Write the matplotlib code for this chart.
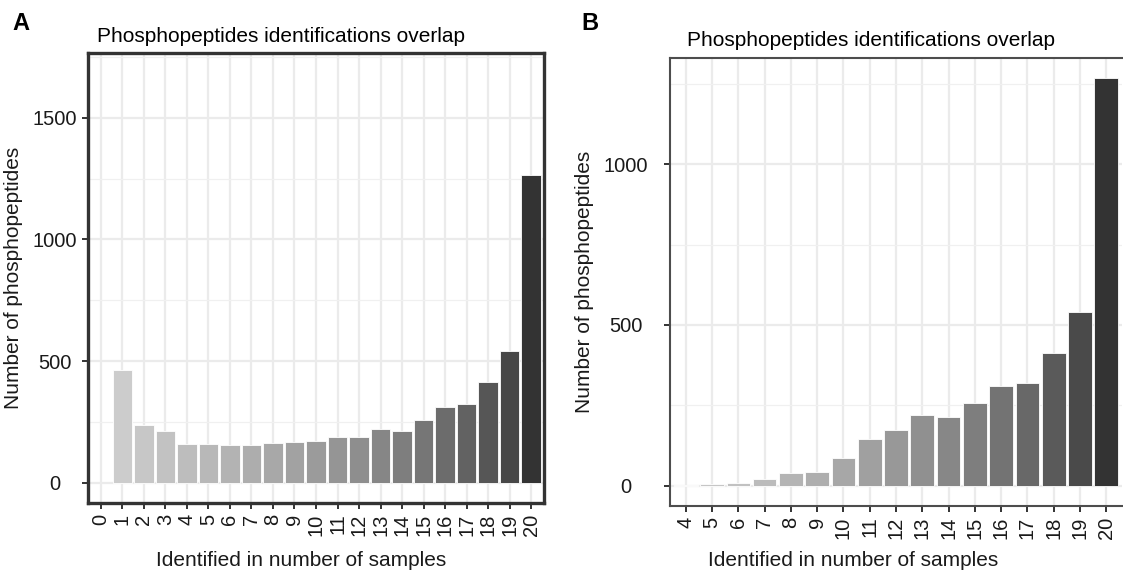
import numpy as np
import matplotlib
matplotlib.use("Agg")
import matplotlib.pyplot as plt
from matplotlib.ticker import MultipleLocator

plt.rcParams['font.family'] = ['Liberation Sans', 'DejaVu Sans']

# panel A: all 0..20, no peptides identified in 0 samples
samples_a = list(range(0, 21))
counts_a = [0, 464, 237, 211, 159, 159, 153, 156, 163, 166, 171,
            188, 188, 219, 214, 256, 310, 322, 414, 541, 1267]

# panel B: 4..20
samples_b = list(range(4, 21))
counts_b = [3, 5, 7, 21, 41, 44, 86, 145, 172, 220, 214,
            258, 309, 321, 412, 539, 1267]

title = "Phosphopeptides identifications overlap"
xlab = "Identified in number of samples"
ylab = "Number of phosphopeptides"

W, H = 1123, 577


def grey_colors(n, start=0.8, end=0.2, gamma=2.2):
    # same as R grey.colors / scale_fill_grey
    v = np.linspace(start ** gamma, end ** gamma, n) ** (1 / gamma)
    return [(g, g, g) for g in v]


def draw_panel(ax, xs, ys, ylim, spine_w, spine_c, ylab_pad):
    bars_x = [x for x, y in zip(xs, ys) if y > 0]
    bars_y = [y for y in ys if y > 0]
    cols = grey_colors(len(bars_x))
    ax.bar(bars_x, bars_y, width=0.9, color=cols, edgecolor='white',
           linewidth=0.6, zorder=3)
    ax.set_xlim(xs[0] - 0.6, xs[-1] + 0.6)
    ax.set_ylim(*ylim)
    ax.set_xticks(xs)
    ax.set_xticklabels([str(x) for x in xs], rotation=90, fontsize=14.5)
    ax.yaxis.set_major_locator(MultipleLocator(500))
    ax.yaxis.set_minor_locator(MultipleLocator(250))
    ax.grid(which='major', color='#ebebeb', linewidth=1.6, zorder=0)
    ax.grid(which='minor', axis='y', color='#f0f0f0', linewidth=0.9, zorder=0)
    ax.set_axisbelow(True)
    ax.tick_params(axis='both', which='major', length=4, width=1.4,
                   color='#333333', labelcolor='#1a1a1a', labelsize=14.5)
    ax.tick_params(axis='y', which='minor', length=0)
    ax.tick_params(axis='y', pad=ylab_pad)
    for lbl in ax.get_yticklabels():
        lbl.set_horizontalalignment('center')
    for s in ax.spines.values():
        s.set_linewidth(spine_w)
        s.set_color(spine_c)
    ax.set_ylabel(ylab, fontsize=15, color='#1a1a1a')


fig = plt.figure(figsize=(W / 100, H / 100), dpi=100)

ax_a = fig.add_axes([88 / W, 1 - 503 / H, 456 / W, 450 / H])
draw_panel(ax_a, samples_a, counts_a, (-84, 1767), 2.4, '#333333', 20)
ax_a.yaxis.set_label_coords((23 - 88) / 456, 0.5)
ax_a.set_xlabel(xlab, fontsize=15, color='#1a1a1a')
ax_a.xaxis.set_label_coords((301 - 88) / 456, (503 - 560) / 450)
ax_a.xaxis.label.set_verticalalignment('center')

ax_b = fig.add_axes([670 / W, 1 - 506 / H, 452 / W, 448 / H])
draw_panel(ax_b, samples_b, counts_b, (-63, 1330), 1.5, '#4d4d4d', 28)
ax_b.spines['right'].set_visible(False)
ax_b.yaxis.set_label_coords((594 - 670) / 452, 0.5)
ax_b.set_xlabel(xlab, fontsize=15, color='#1a1a1a')
ax_b.xaxis.set_label_coords((853 - 670) / 452, (506 - 560) / 448)
ax_b.xaxis.label.set_verticalalignment('center')

fig.text(97 / W, 1 - 37 / H, title, fontsize=15, va='center', ha='left')
fig.text(687 / W, 1 - 40 / H, title, fontsize=15, va='center', ha='left')

fig.text(12 / W, 1 - 24 / H, "A", fontsize=17, fontweight='bold', va='center')
fig.text(581 / W, 1 - 23 / H, "B", fontsize=17, fontweight='bold', va='center')

fig.savefig("out.png", dpi=100, facecolor='white')
